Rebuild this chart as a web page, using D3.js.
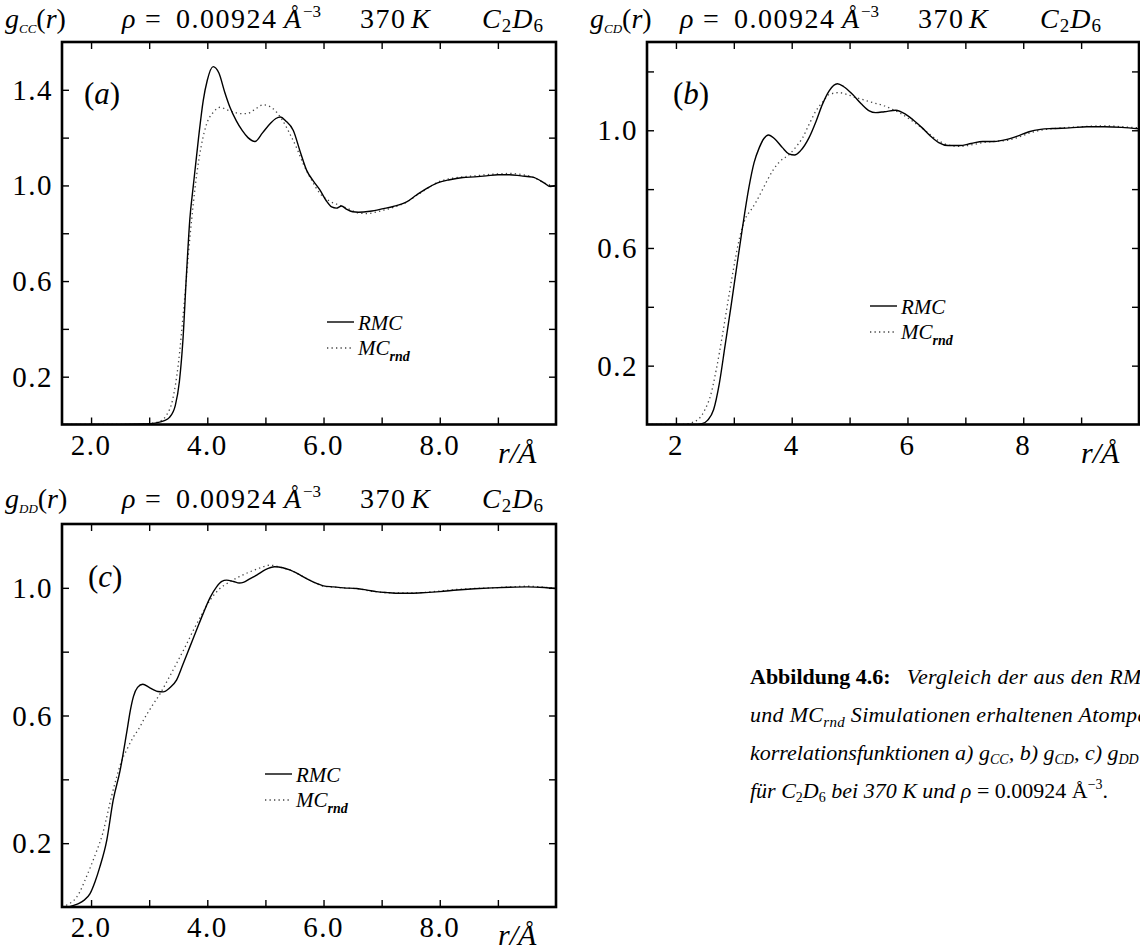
<!DOCTYPE html>
<html><head><meta charset="utf-8">
<script src="https://cdn.jsdelivr.net/npm/d3@7"></script>
<style>
body{margin:0;background:#fff;}
svg{display:block;}
text{font-family:'Liberation Serif','Times New Roman',serif;}
</style></head><body>
<svg id="chart" width="1140" height="949"></svg>
<script>
// ---------------- DATA ----------------
const xTickValues = [2, 4, 6, 8];
const xTickLabelsAC = ["2.0", "4.0", "6.0", "8.0"];
const xTickLabelsB = ["2", "4", "6", "8"];
const xMinorTicks = [2, 3, 4, 5, 6, 7, 8, 9];
const yTickValuesA = [0.2, 0.6, 1.0, 1.4];
const yTickLabelsA = ["0.2", "0.6", "1.0", "1.4"];
const yTickValuesB = [0.2, 0.6, 1.0];
const yTickLabelsB = ["0.2", "0.6", "1.0"];
const yTickValuesC = [0.2, 0.6, 1.0];
const yTickLabelsC = ["0.2", "0.6", "1.0"];
const yMinorA = [0.2, 0.4, 0.6, 0.8, 1.0, 1.2, 1.4];
const yMinorB = [0.2, 0.4, 0.6, 0.8, 1.0, 1.2];
const yMinorC = [0.2, 0.4, 0.6, 0.8, 1.0];
const panelLabels = ["(a)", "(b)", "(c)"];
const seriesNames = ["RMC", "MC"];

// (a) g_CC
const ccRmcR = [1.5,2.5,2.9,3.1,3.25,3.35,3.45,3.52,3.58,3.64,3.70,3.76,3.85,3.93,4.0,4.1,4.2,4.3,4.39,4.5,4.6,4.7,4.82,4.95,5.08,5.18,5.26,5.35,5.48,5.6,5.71,5.82,5.94,6.05,6.14,6.22,6.31,6.4,6.5,6.6,6.8,7.03,7.2,7.43,7.6,7.77,7.95,8.17,8.4,8.6,8.8,9.0,9.2,9.4,9.6,9.8,9.9,10];
const ccRmcG = [0,0,0.002,0.006,0.015,0.03,0.08,0.18,0.35,0.62,0.86,1.0,1.2,1.355,1.44,1.497,1.47,1.39,1.327,1.27,1.23,1.2,1.184,1.22,1.258,1.28,1.286,1.27,1.23,1.14,1.063,1.02,0.98,0.935,0.91,0.905,0.914,0.9,0.89,0.888,0.892,0.903,0.912,0.931,0.96,0.987,1.01,1.024,1.033,1.036,1.04,1.045,1.045,1.04,1.035,1.01,0.995,1.0];
const ccMcR = [1.5,2.7,3.0,3.2,3.3,3.4,3.5,3.6,3.7,3.82,3.9,3.99,4.1,4.22,4.35,4.45,4.58,4.68,4.8,4.96,5.08,5.19,5.3,5.42,5.55,5.65,5.8,5.94,6.1,6.28,6.45,6.6,6.74,6.9,7.03,7.2,7.43,7.6,7.77,7.95,8.17,8.4,8.6,8.8,9.0,9.2,9.4,9.6,9.8,10];
const ccMcG = [0,0,0.004,0.015,0.04,0.1,0.25,0.5,0.78,1.049,1.17,1.258,1.305,1.327,1.315,1.307,1.3,1.3,1.315,1.337,1.33,1.307,1.27,1.216,1.15,1.091,1.02,0.966,0.935,0.917,0.9,0.885,0.882,0.888,0.896,0.908,0.93,0.958,0.985,1.012,1.028,1.036,1.04,1.045,1.048,1.05,1.046,1.035,1.01,0.995];

// (b) g_CD
const cdRmcR = [1.5,2.3,2.45,2.55,2.65,2.75,2.85,2.95,3.04,3.15,3.26,3.35,3.44,3.52,3.6,3.7,3.84,3.95,4.05,4.15,4.3,4.42,4.53,4.65,4.79,4.9,5.05,5.2,5.34,5.45,5.6,5.8,5.97,6.1,6.25,6.4,6.54,6.7,6.9,7.1,7.3,7.5,7.7,7.9,8.1,8.3,8.5,8.8,9.1,9.4,9.7,10];
const cdRmcG = [0,0,0.003,0.015,0.05,0.14,0.27,0.4,0.522,0.67,0.805,0.89,0.941,0.972,0.984,0.972,0.941,0.92,0.916,0.93,0.975,1.03,1.088,1.135,1.158,1.148,1.122,1.09,1.066,1.06,1.063,1.068,1.054,1.035,1.009,0.98,0.958,0.948,0.948,0.955,0.962,0.962,0.968,0.98,0.995,1.003,1.006,1.008,1.012,1.012,1.01,1.005];
const cdMcR = [1.5,2.1,2.25,2.4,2.5,2.6,2.7,2.8,2.9,3.0,3.1,3.2,3.3,3.38,3.5,3.67,3.8,3.96,4.08,4.19,4.3,4.42,4.55,4.65,4.82,4.95,5.11,5.25,5.4,5.57,5.74,5.9,6.08,6.3,6.54,6.7,6.9,7.1,7.3,7.5,7.7,7.9,8.1,8.3,8.5,8.8,9.1,9.4,9.7,10];
const cdMcG = [0,0,0.005,0.02,0.05,0.1,0.19,0.3,0.42,0.535,0.635,0.7,0.73,0.755,0.8,0.862,0.895,0.918,0.945,0.975,1.02,1.066,1.1,1.122,1.128,1.122,1.111,1.103,1.094,1.085,1.071,1.055,1.032,1.0,0.964,0.95,0.945,0.95,0.958,0.962,0.965,0.975,0.99,1.0,1.005,1.01,1.013,1.015,1.012,1.008];

// (c) g_DD
const ddRmcR = [1.5,1.6,1.7,1.8,1.87,1.98,2.07,2.15,2.27,2.38,2.5,2.61,2.68,2.73,2.8,2.89,3.0,3.07,3.15,3.24,3.35,3.47,3.58,3.70,3.82,3.93,4.05,4.16,4.25,4.33,4.45,4.55,4.62,4.73,4.85,5.0,5.16,5.3,5.42,5.6,5.75,5.88,6.0,6.17,6.35,6.57,6.75,6.91,7.1,7.31,7.5,7.75,8.0,8.3,8.6,8.9,9.2,9.5,9.8,10];
const ddRmcG = [0,0,0.005,0.012,0.02,0.041,0.08,0.125,0.209,0.334,0.428,0.543,0.62,0.66,0.688,0.698,0.688,0.681,0.675,0.674,0.686,0.711,0.76,0.815,0.87,0.92,0.97,1.003,1.02,1.024,1.02,1.015,1.017,1.028,1.04,1.057,1.066,1.063,1.056,1.04,1.025,1.014,1.006,1.003,1.0,0.998,0.993,0.988,0.985,0.983,0.983,0.985,0.988,0.993,0.997,1.0,1.002,1.003,1.001,0.998];
const ddMcR = [1.5,1.6,1.7,1.8,1.87,2.0,2.1,2.2,2.27,2.35,2.44,2.52,2.61,2.72,2.84,2.9,3.05,3.19,3.33,3.47,3.62,3.76,3.9,4.05,4.2,4.39,4.55,4.73,4.9,5.08,5.25,5.42,5.6,5.75,5.88,6.0,6.2,6.4,6.6,6.8,7.0,7.3,7.5,7.75,8.0,8.3,8.6,8.9,9.2,9.5,9.8,10];
const ddMcG = [0,0.008,0.02,0.045,0.073,0.13,0.177,0.23,0.282,0.345,0.407,0.455,0.491,0.53,0.564,0.585,0.63,0.669,0.715,0.763,0.815,0.867,0.915,0.962,0.995,1.019,1.035,1.05,1.062,1.071,1.065,1.056,1.04,1.025,1.013,1.005,1.002,0.999,0.997,0.99,0.986,0.984,0.984,0.986,0.99,0.995,0.998,1.0,1.003,1.005,1.002,0.999];

// ---------------- DRAWING ----------------
const svg = d3.select("#chart");
const serif = "Liberation Serif";
const FS = 29;

function zip(rs, gs){ return rs.map((r,i)=>({r:r, g:gs[i]})); }

const panels = [
  {key:"a", sub:"CC", left:62, right:556, top:42, bottom:424.5, ymax:1.6,
   yt:yTickValuesA, ytl:yTickLabelsA, ym:yMinorA, xtl:xTickLabelsAC,
   rmc:zip(ccRmcR, ccRmcG), mc:zip(ccMcR, ccMcG),
   title:{y:28, g:5, dx:0},
   legend:{x:327, y:322}, label:{x:84, y:104}},
  {key:"b", sub:"CD", left:647, right:1139, top:42, bottom:424.5, ymax:1.3,
   yt:yTickValuesB, ytl:yTickLabelsB, ym:yMinorB, xtl:xTickLabelsB,
   rmc:zip(cdRmcR, cdRmcG), mc:zip(cdMcR, cdMcG),
   title:{y:28, g:590, dx:558},
   legend:{x:870, y:306}, label:{x:673, y:104}},
  {key:"c", sub:"DD", left:62, right:556, top:524, bottom:907, ymax:1.2,
   yt:yTickValuesC, ytl:yTickLabelsC, ym:yMinorC, xtl:xTickLabelsAC,
   rmc:zip(ddRmcR, ddRmcG), mc:zip(ddMcR, ddMcG),
   title:{y:508, g:5, dx:0},
   legend:{x:265, y:774}, label:{x:88, y:587}}
];

function txt(sel, x, y, size){
  return sel.append("text").attr("x", x).attr("y", y)
    .style("font-family", serif).attr("font-size", size);
}

panels.forEach((p, pi) => {
  const x = d3.scaleLinear().domain([1.5, 10]).range([p.left, p.right]);
  const y = d3.scaleLinear().domain([0, p.ymax]).range([p.bottom, p.top]);
  const g = svg.append("g");

  const clipId = "clip-" + p.key;
  g.append("clipPath").attr("id", clipId).append("rect")
    .attr("x", p.left).attr("y", p.top).attr("width", p.right - p.left).attr("height", p.bottom - p.top);

  // curves
  const line = d3.line().x(d => x(d.r)).y(d => y(d.g)).curve(d3.curveMonotoneX);
  g.append("path").datum(p.mc).attr("d", line).attr("clip-path", `url(#${clipId})`)
    .attr("fill", "none").attr("stroke", "#444").attr("stroke-width", 1.3)
    .attr("stroke-dasharray", "1.3,3.2");
  g.append("path").datum(p.rmc).attr("d", line).attr("clip-path", `url(#${clipId})`)
    .attr("fill", "none").attr("stroke", "#000").attr("stroke-width", 1.4);

  // inward ticks on all four sides
  const tl = 7;
  const addAxis = (ax, tr) => {
    const a = g.append("g").attr("transform", tr).call(ax);
    a.select(".domain").remove();
    a.selectAll(".tick line").attr("stroke", "#000").attr("stroke-width", 1.4);
    return a;
  };
  addAxis(d3.axisTop(x).tickValues(xMinorTicks).tickSize(tl).tickFormat(""), `translate(0,${p.bottom})`);
  addAxis(d3.axisBottom(x).tickValues(xMinorTicks).tickSize(tl).tickFormat(""), `translate(0,${p.top})`);
  addAxis(d3.axisRight(y).tickValues(p.ym).tickSize(tl).tickFormat(""), `translate(${p.left},0)`);
  addAxis(d3.axisLeft(y).tickValues(p.ym).tickSize(tl).tickFormat(""), `translate(${p.right},0)`);

  // frame
  g.append("rect").attr("x", p.left).attr("y", p.top)
    .attr("width", p.right - p.left).attr("height", p.bottom - p.top)
    .attr("fill", "none").attr("stroke", "#000").attr("stroke-width", 2.6);

  // x tick labels
  g.selectAll(".xl").data(xTickValues).enter().append("text")
    .attr("x", d => x(d)).attr("y", p.bottom + 30)
    .attr("text-anchor", "middle").style("font-family", serif).attr("font-size", FS)
    .attr("letter-spacing", 1.5)
    .text((d, i) => p.xtl[i]);
  // y tick labels
  g.selectAll(".yl").data(p.yt).enter().append("text")
    .attr("x", p.left - 9).attr("y", d => y(d) + 10)
    .attr("text-anchor", "end").style("font-family", serif).attr("font-size", FS)
    .attr("letter-spacing", 1.5)
    .text((d, i) => p.ytl[i]);

  // r/Å label
  txt(g, p.right - 58, p.bottom + 38, 30).attr("font-style", "italic").text("r/Å");

  // panel label
  const lab = txt(g, p.label.x, p.label.y, 31);
  lab.append("tspan").text("(");
  lab.append("tspan").attr("font-style", "italic").text(panelLabels[pi].slice(1, 2));
  lab.append("tspan").text(")");

  // title segments
  const t = p.title, d = t.dx;
  const tg = txt(g, t.g, t.y, 28);
  tg.append("tspan").attr("font-style", "italic").text("g");
  tg.append("tspan").attr("font-style", "italic").attr("font-size", 13).attr("dy", 5).text(p.sub);
  tg.append("tspan").attr("dy", -5).text("(");
  tg.append("tspan").attr("font-style", "italic").text("r");
  tg.append("tspan").text(")");

  txt(g, 122 + d, t.y, 28).attr("font-style", "italic").text("ρ");
  txt(g, 145 + d, t.y, 28).text("=");
  txt(g, 176 + d, t.y, 28).attr("letter-spacing", 1.5).text("0.00924");
  txt(g, 284 + d, t.y, 28).attr("font-style", "italic").text("Å");
  txt(g, 303 + d, t.y - 11, 17).text("−3");
  txt(g, 360 + d, t.y, 28).attr("letter-spacing", 1.5).text("370");
  txt(g, 411 + d, t.y, 28).attr("font-style", "italic").text("K");
  const tc = txt(g, 482 + d, t.y, 28).attr("letter-spacing", 1);
  tc.append("tspan").attr("font-style", "italic").text("C");
  tc.append("tspan").attr("font-size", 19).attr("dy", 4).text("2");
  tc.append("tspan").attr("font-style", "italic").attr("dy", -4).text("D");
  tc.append("tspan").attr("font-size", 19).attr("dy", 4).text("6");

  // legend
  const L = p.legend;
  g.append("line").attr("x1", L.x).attr("x2", L.x + 27).attr("y1", L.y).attr("y2", L.y)
    .attr("stroke", "#000").attr("stroke-width", 1.4);
  g.append("line").attr("x1", L.x).attr("x2", L.x + 27).attr("y1", L.y + 26).attr("y2", L.y + 26)
    .attr("stroke", "#444").attr("stroke-width", 1.3).attr("stroke-dasharray", "1.3,3.2");
  txt(g, L.x + 31, L.y + 8, 21).attr("font-style", "italic").text(seriesNames[0]);
  const lt = txt(g, L.x + 31, L.y + 33, 21).attr("font-style", "italic");
  lt.append("tspan").text(seriesNames[1]);
  lt.append("tspan").attr("font-size", 14).attr("dy", 6).attr("font-weight", "bold").text("rnd");
});

// caption
const capX = 750, capY0 = 684, capDY = 38, capFS = 22;
const cap = svg.append("g");
const l1 = txt(cap, capX, capY0, capFS);
l1.append("tspan").attr("font-weight", "bold").text("Abbildung 4.6:");
l1.append("tspan").attr("font-style", "italic").attr("dx", 16).attr("letter-spacing", 0.3).text("Vergleich der aus den RMC-");
const l2 = txt(cap, capX, capY0 + capDY, capFS).attr("font-style", "italic").attr("letter-spacing", 0.3);
l2.append("tspan").text("und MC");
l2.append("tspan").attr("font-size", 15).attr("dy", 5).text("rnd");
l2.append("tspan").attr("dy", -5).text(" Simulationen erhaltenen Atompaar-");
const l3 = txt(cap, capX, capY0 + 2 * capDY, capFS).attr("font-style", "italic");
l3.append("tspan").text("korrelationsfunktionen a) g");
l3.append("tspan").attr("font-size", 14).attr("dy", 4).text("CC");
l3.append("tspan").attr("dy", -4).text(", b) g");
l3.append("tspan").attr("font-size", 14).attr("dy", 4).text("CD");
l3.append("tspan").attr("dy", -4).text(", c) g");
l3.append("tspan").attr("font-size", 14).attr("dy", 4).text("DD");
const l4 = txt(cap, capX, capY0 + 3 * capDY, capFS).attr("font-style", "italic");
l4.append("tspan").text("für C");
l4.append("tspan").attr("font-size", 14).attr("font-style", "normal").attr("dy", 4).text("2");
l4.append("tspan").attr("dy", -4).text("D");
l4.append("tspan").attr("font-size", 14).attr("font-style", "normal").attr("dy", 4).text("6");
l4.append("tspan").attr("dy", -4).text(" bei 370 K und ");
l4.append("tspan").text("ρ");
l4.append("tspan").attr("font-style", "normal").text(" = 0.00924 Å");
l4.append("tspan").attr("font-style", "normal").attr("font-size", 14).attr("dy", -9).text("−3");
l4.append("tspan").attr("font-style", "normal").attr("dy", 9).text(".");
</script>
</body></html>
